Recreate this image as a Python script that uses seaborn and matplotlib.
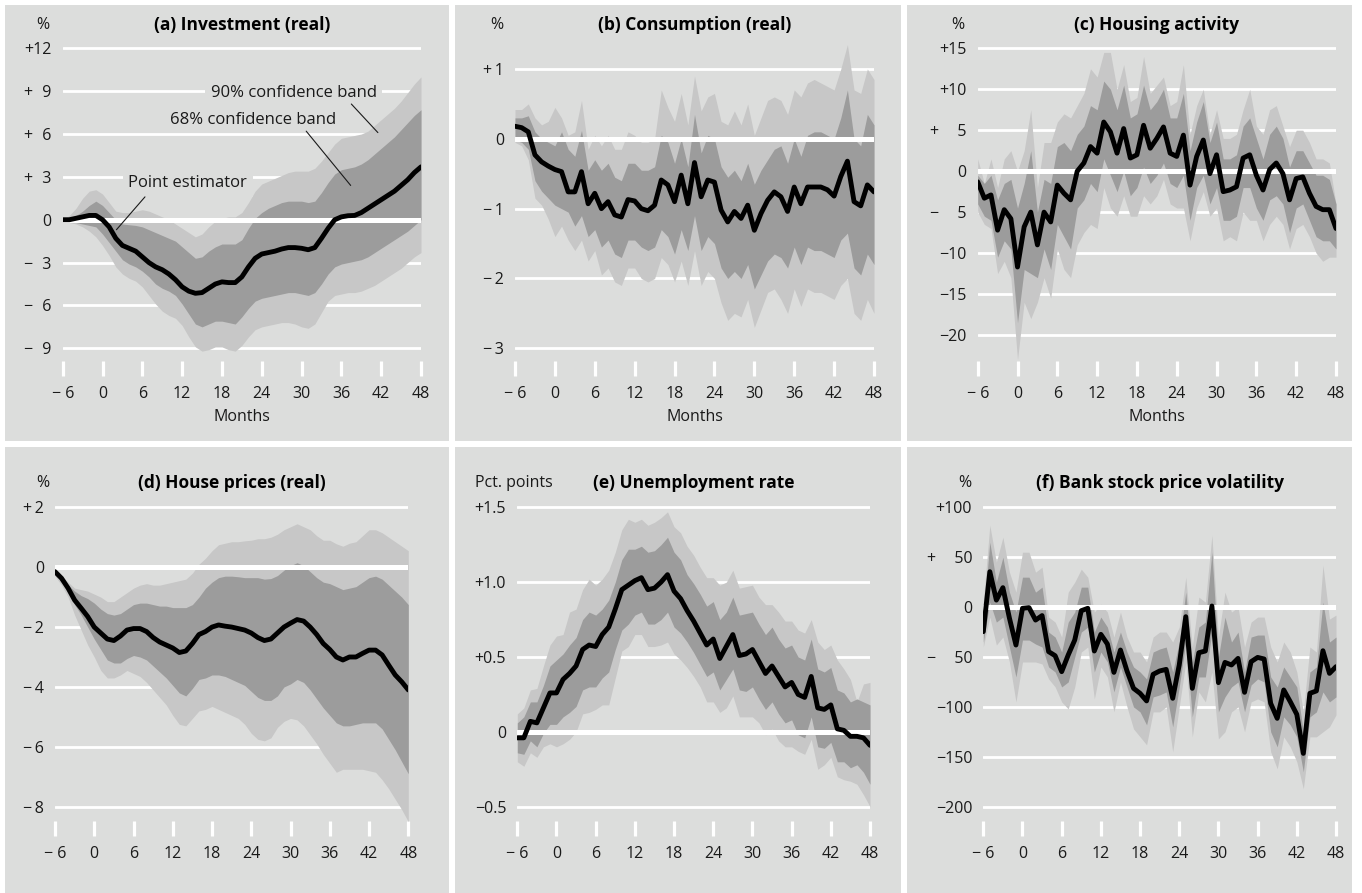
import matplotlib
matplotlib.use("Agg")
import matplotlib.pyplot as plt
from matplotlib.patches import Rectangle
import seaborn as sns

sns.set_style("white")
plt.rcParams['font.family'] = ['Open Sans', 'DejaVu Sans']

# months after the shock
months = list(range(-6, 49))
xtick_vals = [-6, 0, 6, 12, 18, 24, 30, 36, 42, 48]
xtick_labels = ["\u2212 6", "0", "6", "12", "18", "24", "30", "36", "42", "48"]

# (a) Investment (real)
a_pt = [0.0, 0.0, 0.1, 0.2, 0.3, 0.3, 0.0, -0.5, -1.3, -1.8, -2.0, -2.2, -2.6, -3.0, -3.3, -3.5, -3.8, -4.2,
        -4.7, -5.0, -5.15, -5.1, -4.8, -4.5, -4.35, -4.4, -4.4, -4.0, -3.3, -2.7, -2.4, -2.3, -2.2, -2.05,
        -1.95, -1.95, -2.0, -2.1, -1.95, -1.3, -0.6, 0.0, 0.2, 0.28, 0.3, 0.5, 0.8, 1.1, 1.4, 1.7, 2.0, 2.4,
        2.8, 3.3, 3.7]
a_hi68 = [0.0, 0.1, 0.3, 0.6, 1.0, 1.3, 1.0, 0.5, 0.0, -0.3, -0.35, -0.4, -0.5, -0.7, -0.9, -1.1, -1.3, -1.5,
          -1.9, -2.3, -2.7, -2.6, -2.2, -1.9, -1.7, -1.7, -1.7, -1.4, -0.6, 0.1, 0.5, 0.8, 1.0, 1.2, 1.3, 1.3,
          1.3, 1.2, 1.3, 1.9, 2.6, 3.2, 3.5, 3.6, 3.7, 3.9, 4.2, 4.6, 5.0, 5.4, 5.8, 6.3, 6.8, 7.3, 7.7]
a_lo68 = [-0.1, -0.15, -0.2, -0.3, -0.4, -0.5, -1.0, -1.6, -2.2, -2.8, -3.1, -3.3, -3.6, -4.0, -4.5, -4.8, -5.0,
          -5.3, -5.9, -6.6, -7.3, -7.5, -7.3, -7.1, -7.1, -7.2, -7.3, -6.8, -6.2, -5.7, -5.5, -5.4, -5.3, -5.2,
          -5.1, -5.1, -5.2, -5.3, -5.1, -4.5, -3.8, -3.3, -3.1, -3.0, -2.9, -2.8, -2.6, -2.3, -2.0, -1.7, -1.4,
          -1.1, -0.8, -0.4, 0.0]
a_hi90 = [0.0, 0.3, 0.8, 1.5, 2.0, 2.1, 1.8, 1.2, 0.6, 0.5, 0.5, 0.6, 0.7, 0.6, 0.4, 0.2, 0.0, -0.3, -0.6, -0.9,
          -1.2, -1.0, -0.5, -0.1, 0.1, 0.2, 0.2, 0.5, 1.2, 2.0, 2.5, 2.7, 2.9, 3.1, 3.3, 3.4, 3.4, 3.4, 3.6, 4.1,
          4.7, 5.3, 5.7, 5.8, 5.9, 6.0, 6.2, 6.6, 7.0, 7.4, 7.8, 8.3, 8.9, 9.5, 10.0]
a_lo90 = [-0.1, -0.2, -0.3, -0.5, -0.8, -1.2, -1.8, -2.5, -3.3, -3.8, -4.1, -4.3, -4.7, -5.3, -5.9, -6.4, -6.7,
          -6.9, -7.4, -8.2, -8.9, -9.2, -9.1, -8.9, -8.9, -9.1, -9.2, -8.8, -8.2, -7.7, -7.5, -7.4, -7.3, -7.2,
          -7.2, -7.3, -7.5, -7.6, -7.3, -6.5, -5.7, -5.3, -5.2, -5.1, -5.1, -5.0, -4.8, -4.6, -4.3, -4.0, -3.7,
          -3.4, -3.0, -2.6, -2.3]

# (b) Consumption (real)
b_pt = [0.18, 0.16, 0.10, -0.23, -0.33, -0.39, -0.44, -0.47, -0.76, -0.76, -0.47, -0.93, -0.78, -1.0, -0.9,
        -1.09, -1.12, -0.87, -0.89, -1.0, -1.03, -0.95, -0.59, -0.66, -0.9, -0.52, -0.93, -0.34, -0.83, -0.59,
        -0.62, -1.02, -1.19, -1.04, -1.14, -0.95, -1.31, -1.07, -0.88, -0.76, -0.83, -1.04, -0.69, -0.93,
        -0.69, -0.69, -0.69, -0.73, -0.82, -0.54, -0.32, -0.9, -0.96, -0.66, -0.76]
b_hi68 = [0.3, 0.3, 0.33, 0.1, 0.0, -0.05, -0.1, 0.1, -0.15, -0.25, 0.12, -0.45, -0.3, -0.45, -0.35, -0.55,
          -0.6, -0.35, -0.35, -0.45, -0.45, -0.4, 0.05, -0.05, -0.35, 0.0, -0.4, 0.35, -0.2, 0.05, 0.0, -0.4,
          -0.55, -0.45, -0.6, -0.35, -0.65, -0.45, -0.3, -0.15, -0.1, -0.35, 0.0, -0.25, 0.05, 0.1, 0.1, 0.05,
          0.0, 0.3, 0.7, 0.0, -0.1, 0.35, 0.2]
b_lo68 = [-0.02, -0.05, -0.15, -0.6, -0.75, -0.85, -0.95, -1.0, -1.05, -1.25, -1.1, -1.4, -1.3, -1.55, -1.45,
          -1.65, -1.7, -1.45, -1.45, -1.55, -1.6, -1.55, -1.3, -1.4, -1.65, -1.3, -1.6, -1.1, -1.6, -1.4, -1.5,
          -1.85, -2.0, -1.9, -2.0, -1.8, -2.15, -1.95, -1.75, -1.65, -1.7, -1.85, -1.55, -1.8, -1.55, -1.6,
          -1.6, -1.65, -1.7, -1.45, -1.35, -1.85, -1.95, -1.65, -1.8]
b_hi90 = [0.42, 0.42, 0.5, 0.3, 0.2, 0.25, 0.45, 0.3, 0.05, 0.1, 0.55, -0.15, 0.05, -0.1, 0.05, -0.15, -0.15,
          0.1, 0.05, -0.05, -0.05, 0.0, 0.7, 0.45, 0.25, 0.65, 0.2, 0.9, 0.4, 0.6, 0.65, 0.25, 0.2, 0.4, 0.2,
          0.5, 0.05, 0.3, 0.55, 0.6, 0.55, 0.35, 0.7, 0.6, 0.8, 0.85, 0.8, 0.75, 0.7, 1.0, 1.35, 0.7, 0.65,
          1.0, 0.85]
b_lo90 = [-0.05, -0.1, -0.3, -0.85, -0.95, -1.15, -1.4, -1.25, -1.45, -1.6, -1.45, -1.75, -1.6, -1.95, -1.85,
          -2.05, -2.1, -1.85, -1.85, -2.0, -2.05, -2.0, -1.7, -1.8, -2.05, -1.75, -2.1, -1.6, -2.1, -1.9, -2.0,
          -2.35, -2.6, -2.5, -2.55, -2.3, -2.7, -2.45, -2.2, -2.15, -2.3, -2.5, -2.15, -2.4, -2.15, -2.2, -2.2,
          -2.25, -2.3, -2.1, -2.0, -2.5, -2.6, -2.3, -2.5]

# (c) Housing activity
c_pt = [-1.3, -3.3, -2.9, -7.2, -4.7, -5.8, -11.7, -6.8, -5.0, -9.0, -5.0, -6.2, -1.7, -2.7, -3.5, 0.0, 1.0,
        3.0, 2.2, 6.0, 4.8, 2.2, 5.2, 1.6, 2.0, 5.6, 2.8, 4.0, 5.4, 2.2, 1.8, 4.4, -1.7, 1.8, 3.8, -0.3, 2.0,
        -2.5, -2.3, -1.9, 1.6, 2.0, -0.5, -2.3, 0.2, 1.0, -0.3, -3.5, -0.9, -0.7, -2.7, -4.3, -4.7, -4.7, -7.0]
c_hi68 = [-0.5, -1.5, -0.5, -3.5, -1.5, -1.0, -4.5, -1.5, 2.5, -5.0, -1.0, -1.5, 3.0, 3.5, 2.5, 4.5, 5.5, 8.0,
          7.5, 11.0, 10.0, 7.5, 10.5, 6.5, 7.0, 10.5, 7.5, 8.5, 10.0, 6.5, 6.5, 9.5, 2.5, 6.0, 8.5, 3.5, 6.0,
          1.5, 1.5, 2.0, 5.5, 6.5, 4.0, 1.5, 4.5, 5.5, 4.0, 0.5, 2.5, 2.5, 1.0, -0.5, -0.5, -1.0, -4.0]
c_lo68 = [-4.0, -5.5, -6.0, -10.5, -8.5, -9.5, -18.5, -12.0, -12.5, -13.0, -9.5, -12.0, -6.5, -8.0, -9.5, -4.5,
          -3.5, -1.5, -2.5, 1.5, -0.5, -2.5, 0.0, -3.0, -2.0, 0.5, -1.5, -0.5, 1.0, -1.5, -2.0, -0.5, -6.0,
          -2.0, -0.5, -4.0, -2.0, -6.0, -6.0, -5.5, -2.0, -2.0, -4.5, -6.0, -3.5, -3.0, -4.0, -7.5, -4.5, -4.0,
          -6.0, -8.0, -8.5, -8.5, -9.5]
c_hi90 = [1.5, -1.5, 1.5, -2.0, 1.5, 2.5, 0.0, 2.5, 7.5, -2.0, 3.5, 3.5, 6.0, 7.0, 6.5, 8.0, 9.5, 12.5, 11.5,
          14.5, 14.5, 10.0, 13.0, 8.5, 9.0, 14.0, 9.5, 10.5, 11.5, 8.0, 8.5, 13.0, 4.5, 8.0, 10.0, 4.5, 7.5,
          4.0, 4.0, 4.5, 7.5, 10.0, 5.5, 4.5, 7.5, 8.0, 5.5, 3.0, 5.0, 5.0, 3.5, 1.5, 1.5, 1.0, -4.0]
c_lo90 = [-5.0, -6.5, -7.0, -12.5, -11.0, -13.0, -23.0, -16.0, -18.0, -16.0, -13.0, -15.5, -9.5, -12.0, -13.0,
          -9.0, -7.5, -6.5, -7.0, -2.0, -4.5, -5.5, -3.0, -5.5, -5.5, -3.0, -4.0, -3.0, -1.0, -4.0, -4.5, -4.5,
          -8.5, -4.5, -2.5, -5.5, -4.5, -8.5, -8.0, -8.5, -5.0, -6.0, -6.0, -8.5, -6.5, -5.5, -6.5, -9.5, -7.0,
          -6.5, -8.0, -10.0, -11.0, -10.5, -10.5]

# (d) House prices (real)
d_pt = [-0.15, -0.37, -0.7, -1.1, -1.37, -1.65, -2.0, -2.2, -2.4, -2.45, -2.3, -2.1, -2.05, -2.05, -2.15,
        -2.35, -2.5, -2.6, -2.7, -2.85, -2.8, -2.55, -2.25, -2.15, -2.0, -1.93, -1.97, -2.0, -2.05, -2.1, -2.2,
        -2.35, -2.45, -2.4, -2.2, -2.0, -1.87, -1.75, -1.8, -2.0, -2.25, -2.55, -2.75, -3.0, -3.1, -3.0, -3.0,
        -2.88, -2.77, -2.77, -2.93, -3.27, -3.6, -3.83, -4.1]
d_hi68 = [-0.15, -0.35, -0.6, -0.8, -0.95, -1.05, -1.2, -1.4, -1.55, -1.6, -1.55, -1.4, -1.25, -1.2, -1.2,
          -1.25, -1.3, -1.3, -1.35, -1.35, -1.35, -1.25, -1.0, -0.7, -0.5, -0.35, -0.3, -0.3, -0.32, -0.35,
          -0.35, -0.35, -0.4, -0.38, -0.28, -0.1, 0.05, 0.15, 0.05, -0.15, -0.35, -0.5, -0.55, -0.65, -0.75,
          -0.7, -0.65, -0.5, -0.35, -0.3, -0.4, -0.6, -0.8, -1.0, -1.25]
d_lo68 = [-0.2, -0.45, -0.8, -1.25, -1.6, -2.0, -2.4, -2.75, -3.1, -3.2, -3.2, -3.05, -2.95, -3.0, -3.1, -3.3,
          -3.5, -3.7, -3.95, -4.2, -4.3, -4.05, -3.75, -3.7, -3.6, -3.6, -3.65, -3.75, -3.85, -3.95, -4.15,
          -4.35, -4.45, -4.45, -4.3, -4.0, -3.9, -3.75, -3.85, -4.1, -4.4, -4.7, -4.95, -5.2, -5.3, -5.3, -5.25,
          -5.2, -5.2, -5.2, -5.4, -5.75, -6.1, -6.5, -6.9]
d_hi90 = [-0.1, -0.3, -0.5, -0.7, -0.75, -0.8, -0.9, -1.0, -1.15, -1.15, -1.0, -0.85, -0.7, -0.6, -0.55, -0.6,
          -0.6, -0.55, -0.5, -0.45, -0.4, -0.2, 0.1, 0.3, 0.55, 0.75, 0.8, 0.85, 0.85, 0.88, 0.9, 0.95, 0.95,
          1.0, 1.1, 1.25, 1.35, 1.45, 1.35, 1.25, 1.05, 0.9, 0.9, 0.78, 0.7, 0.8, 0.85, 1.05, 1.25, 1.25, 1.15,
          1.0, 0.85, 0.7, 0.55]
d_lo90 = [-0.3, -0.6, -1.0, -1.6, -2.1, -2.6, -3.0, -3.45, -3.7, -3.7, -3.6, -3.45, -3.55, -3.65, -3.85, -4.1,
          -4.35, -4.6, -4.95, -5.25, -5.3, -5.05, -4.8, -4.75, -4.65, -4.75, -4.85, -4.95, -5.05, -5.25, -5.55,
          -5.75, -5.8, -5.7, -5.35, -5.15, -5.05, -5.1, -5.3, -5.6, -5.9, -6.25, -6.55, -6.85, -6.75, -6.75,
          -6.75, -6.75, -6.8, -6.85, -7.1, -7.4, -7.75, -8.1, -8.5]

# (e) Unemployment rate
e_pt = [-0.04, -0.04, 0.07, 0.06, 0.16, 0.26, 0.26, 0.35, 0.39, 0.44, 0.55, 0.58, 0.57, 0.65, 0.70, 0.82,
        0.95, 0.98, 1.01, 1.03, 0.95, 0.96, 1.0, 1.05, 0.94, 0.89, 0.81, 0.74, 0.66, 0.58, 0.62, 0.49, 0.57,
        0.65, 0.51, 0.52, 0.55, 0.47, 0.39, 0.44, 0.37, 0.30, 0.33, 0.25, 0.23, 0.37, 0.16, 0.15, 0.18, 0.02,
        0.01, -0.03, -0.03, -0.04, -0.09]
e_hi68 = [0.06, 0.1, 0.2, 0.2, 0.31, 0.44, 0.48, 0.52, 0.58, 0.63, 0.75, 0.8, 0.78, 0.82, 0.88, 1.0, 1.15,
          1.22, 1.22, 1.24, 1.2, 1.21, 1.25, 1.3, 1.2, 1.15, 1.05, 0.99, 0.92, 0.84, 0.87, 0.75, 0.8, 0.9,
          0.78, 0.79, 0.8, 0.72, 0.65, 0.7, 0.62, 0.56, 0.58, 0.5, 0.48, 0.62, 0.42, 0.4, 0.43, 0.28, 0.26,
          0.2, 0.22, 0.2, 0.18]
e_lo68 = [-0.14, -0.15, -0.06, -0.1, -0.01, 0.05, 0.05, 0.1, 0.13, 0.17, 0.28, 0.3, 0.3, 0.36, 0.4, 0.55,
          0.68, 0.72, 0.78, 0.8, 0.72, 0.72, 0.75, 0.8, 0.7, 0.66, 0.6, 0.53, 0.45, 0.37, 0.4, 0.28, 0.35, 0.42,
          0.28, 0.27, 0.3, 0.22, 0.15, 0.2, 0.12, 0.06, 0.08, -0.02, -0.04, 0.1, -0.1, -0.11, -0.07, -0.2,
          -0.2, -0.24, -0.22, -0.27, -0.35]
e_hi90 = [0.12, 0.16, 0.28, 0.29, 0.44, 0.58, 0.64, 0.65, 0.8, 0.82, 0.95, 1.02, 0.98, 1.02, 1.08, 1.2, 1.35,
          1.42, 1.4, 1.42, 1.38, 1.4, 1.43, 1.47, 1.37, 1.33, 1.24, 1.18, 1.1, 1.03, 1.03, 0.98, 1.0, 1.08,
          0.96, 0.97, 0.98, 0.9, 0.85, 0.85, 0.8, 0.74, 0.74, 0.68, 0.66, 0.75, 0.6, 0.55, 0.58, 0.48, 0.42,
          0.35, 0.2, 0.32, 0.33]
e_lo90 = [-0.2, -0.23, -0.14, -0.17, -0.1, -0.08, -0.1, -0.08, -0.05, 0.0, 0.12, 0.13, 0.15, 0.18, 0.18,
          0.36, 0.54, 0.57, 0.65, 0.65, 0.57, 0.57, 0.58, 0.6, 0.52, 0.48, 0.43, 0.37, 0.3, 0.2, 0.2, 0.13,
          0.16, 0.24, 0.1, 0.1, 0.1, 0.06, -0.02, 0.02, -0.06, -0.1, -0.1, -0.13, -0.15, -0.05, -0.25, -0.22,
          -0.17, -0.3, -0.32, -0.33, -0.35, -0.42, -0.5]

# (f) Bank stock price volatility
f_pt = [-24.6, 35.5, 7, 19.5, -11, -38, -1.2, -0.5, -13, -8.5, -44.6, -48.7, -64.7, -48, -33, -3.6, -1.2,
        -44, -27.3, -37, -65.4, -43, -64, -81.4, -86.4, -94, -67.4, -64, -62.4, -91.4, -58, -9.6, -81.4,
        -45.7, -44, 1.1, -75.7, -55.4, -58, -51.4, -85.4, -54.7, -50.4, -52, -96.5, -111.5, -83, -94.8,
        -107.5, -146.6, -86.4, -84, -43.7, -66.4, -59.7]
f_hi68 = [-10, 65, 25, 50, 15, -5, 30, 30, 15, 20, -25, -30, -45, -15, -5, 20, 20, -25, -10, -20, -45, -25,
          -45, -60, -65, -72, -45, -42, -40, -65, -35, 15, -55, -20, -15, 55, -50, -10, -35, -25, -65, -30,
          -28, -28, -70, -80, -60, -70, -80, -125, -65, -60, 5, -35, -30]
f_lo68 = [-35, 5, -15, -10, -40, -70, -33, -33, -37, -40, -60, -65, -80, -75, -50, -25, -20, -65, -45, -55,
          -85, -60, -80, -100, -105, -118, -90, -88, -85, -120, -80, -35, -110, -70, -70, -25, -105, -90, -80,
          -75, -105, -78, -72, -75, -125, -140, -110, -118, -130, -165, -110, -105, -85, -95, -90]
f_hi90 = [5, 82, 45, 70, 35, 15, 55, 55, 35, 40, -10, -15, -30, 15, 25, 38, 30, -5, 3, -5, -30, -5, -30, -45,
          -45, -55, -30, -25, -25, -35, -20, 30, -40, 10, 5, 72, -30, 15, -5, 0, -40, -15, -10, -10, -40, -55,
          -35, -45, -65, -105, -40, -45, 42, -12, -8]
f_lo90 = [-40, -10, -38, -30, -55, -95, -55, -55, -55, -57, -72, -80, -95, -102, -80, -45, -40, -92, -60, -70,
          -105, -75, -100, -122, -130, -138, -105, -105, -100, -145, -100, -55, -130, -85, -95, -65, -132, -125,
          -105, -100, -125, -95, -92, -95, -145, -162, -130, -140, -155, -182, -130, -130, -125, -120, -108]

titles = ["(a) Investment (real)", "(b) Consumption (real)", "(c) Housing activity",
          "(d) House prices (real)", "(e) Unemployment rate", "(f) Bank stock price volatility"]
units = ["%", "%", "%", "%", "Pct. points", "%"]
ytick_vals = [[12, 9, 6, 3, 0, -3, -6, -9], [1, 0, -1, -2, -3], [15, 10, 5, 0, -5, -10, -15, -20],
              [2, 0, -2, -4, -6, -8], [1.5, 1.0, 0.5, 0, -0.5], [100, 50, 0, -50, -100, -150, -200]]
ytick_labels = [["+12", "+\u20079", "+\u20076", "+\u20073", "0", "\u2212\u20073", "\u2212\u20076", "\u2212\u20079"],
                ["+\u20091", "0", "\u2212\u20091", "\u2212\u20092", "\u2212\u20093"],
                ["+15", "+10", "+\u2007\u20075", "0", "\u2212\u2007\u20075", "\u221210", "\u221215", "\u221220"],
                ["+\u20092", "0", "\u2212\u20092", "\u2212\u20094", "\u2212\u20096", "\u2212\u20098"],
                ["+1.5", "+1.0", "+0.5", "0", "\u22120.5"],
                ["+100", "+\u2007\u200750", "0", "\u2212\u2007\u200750", "\u2212100", "\u2212150", "\u2212200"]]
series = [(a_pt, a_lo68, a_hi68, a_lo90, a_hi90), (b_pt, b_lo68, b_hi68, b_lo90, b_hi90),
          (c_pt, c_lo68, c_hi68, c_lo90, c_hi90), (d_pt, d_lo68, d_hi68, d_lo90, d_hi90),
          (e_pt, e_lo68, e_hi68, e_lo90, e_hi90), (f_pt, f_lo68, f_hi68, f_lo90, f_hi90)]

BG = "#dcdddc"
LIGHT = "#c7c7c7"
DARK = "#9c9c9c"
TXT = "#1a1a1a"
FS = 11.5
W, H = 1362, 893

# layout in pixels: panel box, plot x-range (-6 and 48), two reference grid values with their pixel rows
panels = [
    dict(box=(5, 5, 449, 441), x0=62.7, x1=421, ref=(48.3, 348.3), top=38, bot=361, unit_x=43, title_y=25),
    dict(box=(455, 5, 901, 441), x0=515, x1=874, ref=(69, 348.3), top=38, bot=361, unit_x=497, title_y=25),
    dict(box=(907, 5, 1352, 441), x0=977.7, x1=1336, ref=(48.3, 335), top=38, bot=361, unit_x=958, title_y=25),
    dict(box=(5, 447, 449, 893), x0=55, x1=408.3, ref=(507.3, 806.7), top=495, bot=821, unit_x=43, title_y=483),
    dict(box=(455, 447, 901, 893), x0=517.3, x1=870, ref=(507.3, 806.7), top=495, bot=821, unit_x=514, title_y=483),
    dict(box=(907, 447, 1352, 893), x0=983.3, x1=1336, ref=(507.3, 806.7), top=495, bot=821, unit_x=965, title_y=483),
]

fig = plt.figure(figsize=(W / 100, H / 100), dpi=100, facecolor="white")

for i, p in enumerate(panels):
    bx0, by0, bx1, by1 = p["box"]
    fig.patches.append(Rectangle((bx0 / W, 1 - by1 / H), (bx1 - bx0) / W, (by1 - by0) / H,
                                 transform=fig.transFigure, facecolor=BG, edgecolor="none", zorder=-5))
    ax = fig.add_axes([p["x0"] / W, 1 - p["bot"] / H, (p["x1"] - p["x0"]) / W, (p["bot"] - p["top"]) / H])
    ax.set_facecolor("none")
    ax.set_zorder(2)

    yv = ytick_vals[i]
    v_top, v_bot = yv[0], yv[-1]
    p_top, p_bot = p["ref"]
    scale = (p_bot - p_top) / (v_top - v_bot)
    ax.set_ylim(v_bot - (p["bot"] - p_bot) / scale, v_top + (p_top - p["top"]) / scale)
    ax.set_xlim(-6, 48)

    pt, lo68, hi68, lo90, hi90 = series[i]
    for v in yv:
        if v != 0:
            ax.axhline(v, color="white", lw=2.0, zorder=0.5)
    ax.fill_between(months, lo90, hi90, color=LIGHT, lw=0, zorder=1)
    ax.fill_between(months, lo68, hi68, color=DARK, lw=0, zorder=2)
    ax.axhline(0, color="white", lw=3.6, zorder=3)
    sns.lineplot(x=months, y=pt, ax=ax, color="black", lw=3.5, zorder=4)

    for s in ax.spines.values():
        s.set_visible(False)
    ax.set_yticks(yv)
    ax.set_yticklabels(ytick_labels[i])
    ax.tick_params(axis="y", left=False, length=0, pad=8, labelsize=FS, labelcolor=TXT)
    ax.set_xticks(xtick_vals)
    ax.set_xticklabels(xtick_labels)
    ax.tick_params(axis="x", bottom=True, direction="out", length=11, width=2.3, color="white",
                   pad=7, labelsize=FS, labelcolor=TXT)
    if i < 3:
        ax.set_xlabel("Months", fontsize=FS, color=TXT, labelpad=5)

    cx = (p["x0"] + p["x1"]) / 2
    fig.text(cx / W, 1 - p["title_y"] / H, titles[i], ha="center", va="center",
             fontsize=12.5, fontweight="bold", color="black")
    fig.text(p["unit_x"] / W, 1 - p["title_y"] / H, units[i], ha="center", va="center",
             fontsize=FS, color=TXT)

    if i == 0:
        box = dict(facecolor=BG, edgecolor="none", pad=4)
        ax.text(16.3, 8.9, "90% confidence band", ha="left", va="center", fontsize=12,
                color=TXT, bbox=box, zorder=5)
        ax.plot([37.5, 41.5], [8.1, 6.1], color=TXT, lw=0.8, zorder=5)
        ax.text(10.1, 7.0, "68% confidence band", ha="left", va="center", fontsize=12,
                color=TXT, bbox=box, zorder=5)
        ax.plot([30.7, 37.4], [6.2, 2.4], color=TXT, lw=0.8, zorder=5)
        ax.text(3.9, 2.55, "Point estimator", ha="left", va="center", fontsize=12,
                color=TXT, bbox=box, zorder=5)
        ax.plot([6.4, 2.1], [1.6, -0.7], color=TXT, lw=0.8, zorder=5)

fig.savefig("out.png", dpi=100, facecolor="white")
